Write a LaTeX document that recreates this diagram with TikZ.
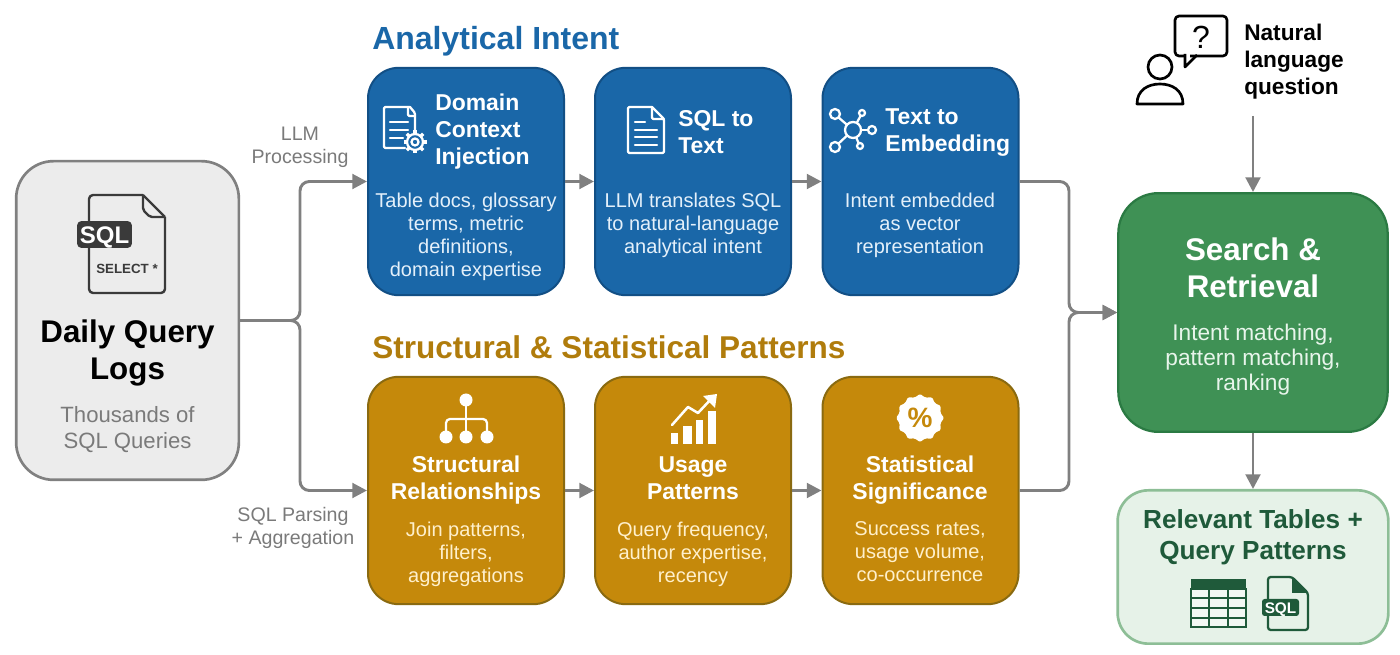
\documentclass[tikz,border=0pt]{standalone}
\usepackage{fontspec}
\usepackage{color}
\setmainfont{Liberation Sans}
\usetikzlibrary{arrows.meta,shapes.geometric}

\definecolor{flowgray}{HTML}{808080}
\definecolor{labelgray}{HTML}{7A7A7A}
\definecolor{logfill}{HTML}{ECECEC}
\definecolor{intentblue}{HTML}{1A67A8}
\definecolor{intentedge}{HTML}{124F85}
\definecolor{patterngold}{HTML}{C5890B}
\definecolor{patternedge}{HTML}{8A6A10}
\definecolor{patterntitle}{HTML}{B07C0C}
\definecolor{searchgreen}{HTML}{3F9155}
\definecolor{searchedge}{HTML}{2B7A43}
\definecolor{resultfill}{HTML}{E6F2E8}
\definecolor{resultedge}{HTML}{8DBE96}
\definecolor{resultdark}{HTML}{1F5A3A}
\definecolor{inkdark}{HTML}{3A3A3A}
\definecolor{bodyblue}{HTML}{E4F0FA}
\definecolor{bodygold}{HTML}{FFF0CC}
\definecolor{bodygreen}{HTML}{E8F5EB}

\tikzset{
	boxbase/.style={rectangle,inner sep=0pt,line width=1.5pt,minimum width=147pt,minimum height=170.5pt,rounded corners=23pt},
	bluebox/.style={boxbase,fill=intentblue,draw=intentedge},
	goldbox/.style={boxbase,fill=patterngold,draw=patternedge},
	flowline/.style={draw=flowgray,line width=2.2pt,rounded corners=7pt,-{Triangle[length=11pt,width=11pt,fill=flowgray]}},
	headtext/.style={text=white,font=\fontsize{17.2}{20.2}\selectfont\bfseries,align=center,inner sep=0pt},
	headleft/.style={headtext,align=left,anchor=west},
	bodytext/.style={font=\fontsize{15}{17.25}\selectfont,align=center,inner sep=0pt},
	sidelabel/.style={text=labelgray,font=\fontsize{14.7}{17.25}\selectfont,align=center,inner sep=0pt},
	grouptitle/.style={font=\fontsize{24}{28}\selectfont\bfseries,anchor=west,inner sep=0pt},
	iconwhite/.style={draw=white,line width=1.7pt,line join=round,line cap=round,rounded corners=1pt},
}

\begin{document}
\begin{tikzpicture}[x=0.75pt,y=-0.75pt]
	\useasboundingbox (0,0) rectangle (1400,655);

	\node [rectangle,inner sep=0pt,fill=logfill,draw=flowgray,line width=2pt,minimum width=167pt,minimum height=239pt,rounded corners=28pt] (logs) at (127.5,320.5) {};
	\node [bluebox] (domain) at (466,181.5) {};
	\node [bluebox] (sqltext) at (693,181.5) {};
	\node [bluebox] (embed) at (920.5,181.5) {};
	\node [goldbox] (struct) at (466,490.5) {};
	\node [goldbox] (usage) at (693,490.5) {};
	\node [goldbox] (stats) at (920.5,490.5) {};
	\node [rectangle,inner sep=0pt,fill=searchgreen,draw=searchedge,line width=1.7pt,minimum width=202pt,minimum height=179pt,rounded corners=30pt] (search) at (1253,312.5) {};
	\node [rectangle,inner sep=0pt,fill=resultfill,draw=resultedge,line width=2pt,minimum width=203pt,minimum height=115pt,rounded corners=23pt] (result) at (1253,567) {};

	\coordinate (splitpt) at (300,320.5);
	\coordinate (mergept) at (1069,312.5);
	\coordinate (askpt) at (1253,116);

	\draw [flowline] (logs.east) -- (splitpt) |- (domain.west);
	\draw [flowline] (logs.east) -- (splitpt) |- (struct.west);
	\draw [flowline] (domain) -- (sqltext);
	\draw [flowline] (sqltext) -- (embed);
	\draw [flowline] (struct) -- (usage);
	\draw [flowline] (usage) -- (stats);
	\draw [flowline] (embed.east) -| (mergept) -- (search.west);
	\draw [flowline] (stats.east) -| (mergept) -- (search.west);
	\draw [flowline] (askpt) -- (search.north);
	\draw [flowline] (search.south) -- (result.north);

	\node [grouptitle,text=intentblue] (intenttitle) at (372,41) {Analytical Intent};
	\node [grouptitle,text=patterntitle,font=\fontsize{23.65}{28}\selectfont\bfseries] (patterntitle) at (372,347) {Structural \& Statistical Patterns};

	\node [sidelabel] (llmlabel) at (300,147) {LLM\\Processing};
	\node [sidelabel] (parselabel) at (293,527.5) {SQL Parsing\\+ Aggregation};

	\node [font=\fontsize{23.5}{27.75}\selectfont\bfseries,align=center,inner sep=0pt] (logstitle) at (127.5,352.5) {Daily Query\\Logs};
	\node [text=labelgray,font=\fontsize{16.6}{19.5}\selectfont,align=center,inner sep=0pt] (logssub) at (127.5,430) {Thousands of\\SQL Queries};

	\draw [draw=inkdark,line width=1.8pt,line join=round,rounded corners=3pt] (89,225) -- (89,195) -- (143,195);
	\draw [draw=inkdark,line width=1.8pt,line join=round] (143,195) -- (165,217);
	\draw [draw=inkdark,line width=1.8pt,line join=round,rounded corners=3pt] (165,217) -- (165,293) -- (89,293) -- (89,245);
	\draw [draw=inkdark,line width=1.8pt,line join=round,rounded corners=1.5pt] (143,195) -- (143,210) -- (150,217) -- (165,217);
	\node [fill=inkdark,text=white,rectangle,rounded corners=3pt,inner sep=0pt,minimum width=41pt,minimum height=20pt,text height=14pt,text depth=0pt,font=\fontsize{18}{18}\selectfont\bfseries] (sqlbadge) at (104.5,234.5) {SQL};
	\node [text=inkdark,font=\fontsize{10}{10}\selectfont\bfseries,inner sep=0pt] (selectlabel) at (127,269) {SELECT *};

	\node [headleft] (domainhead) at (435,132) {Domain\\Context\\Injection};
	\node [headleft] (sqltexthead) at (678,132) {SQL to\\Text};
	\node [headleft] (embedhead) at (885,132.5) {Text to\\Embedding};
	\node [bodytext,text=bodyblue] (domainbody) at (466,236.5) {Table docs, glossary\\terms, metric\\definitions,\\domain expertise};
	\node [bodytext,text=bodyblue] (sqltextbody) at (693,225) {LLM translates SQL\\to natural-language\\analytical intent};
	\node [bodytext,text=bodyblue] (embedbody) at (920,225) {Intent embedded\\as vector\\representation};

	\draw [iconwhite] (410,107) -- (384,107) -- (384,148) -- (405,148);
	\draw [iconwhite] (410,107) -- (415,113) -- (415,130);
	\draw [iconwhite] (408,107) -- (408,116) -- (415,116);
	\draw [iconwhite] (390,122) -- (408,122);
	\draw [iconwhite] (390,130) -- (408,130);
	\draw [iconwhite] (390,138) -- (403,138);
	\foreach \ang in {0,45,...,315}
		\draw [draw=white,line width=2.4pt] (415,142) ++(\ang:6) -- ++(\ang:5.5);
	\draw [iconwhite,fill=intentblue] (415,142) circle (8);
	\draw [iconwhite] (415,142) circle (3.5);

	\draw [iconwhite] (652,107) -- (628,107) -- (628,153) -- (664,153) -- (664,119) -- (652,107);
	\draw [iconwhite] (652,107) -- (652,119) -- (664,119);
	\draw [iconwhite] (635,122) -- (645,122);
	\draw [iconwhite] (635,130) -- (657,130);
	\draw [iconwhite] (635,137) -- (657,137);
	\draw [iconwhite] (635,145) -- (657,145);

	\draw [iconwhite] (853,130) -- (838,117);
	\draw [iconwhite] (853,130) -- (861,115);
	\draw [iconwhite] (853,130) -- (868,130);
	\draw [iconwhite] (853,130) -- (859,144);
	\draw [iconwhite] (853,130) -- (838,144);
	\draw [iconwhite,fill=intentblue] (853,130) circle (8);
	\draw [iconwhite,fill=intentblue] (835,114) circle (5);
	\draw [iconwhite,fill=intentblue] (862,113) circle (3);
	\draw [iconwhite,fill=intentblue] (872,130) circle (4);
	\draw [iconwhite,fill=intentblue] (860,146) circle (3);
	\draw [iconwhite,fill=intentblue] (835,147) circle (5);

	\node [headtext] (structhead) at (466,480.5) {Structural\\Relationships};
	\node [headtext] (usagehead) at (693,478.5) {Usage\\Patterns};
	\node [headtext] (statshead) at (920,480.5) {Statistical\\Significance};
	\node [bodytext,text=bodygold] (structbody) at (466,554) {Join patterns,\\filters,\\aggregations};
	\node [bodytext,text=bodygold] (usagebody) at (693,554) {Query frequency,\\author expertise,\\recency};
	\node [bodytext,text=bodygold] (statsbody) at (920,552) {Success rates,\\usage volume,\\co-occurrence};

	\draw [iconwhite] (466,400) -- (466,437);
	\draw [iconwhite,rounded corners=3pt] (446,437) -- (446,419) -- (487,419) -- (487,437);
	\fill [white] (466,400) circle (6.5);
	\fill [white] (446,437) circle (6.5);
	\fill [white] (466,437) circle (6.5);
	\fill [white] (487,437) circle (6.5);

	\fill [white] (671,433) rectangle (678,444);
	\fill [white] (683,426) rectangle (692,444);
	\fill [white] (696,420) rectangle (703,444);
	\fill [white] (708,411) rectangle (716,444);
	\draw [iconwhite,rounded corners=0pt,line width=1.9pt] (672,425) -- (688,407) -- (698,413) -- (712,398);
	\fill [white] (717,394) -- (703,396) -- (715,408);

	\node [star,star points=12,star point ratio=1.14,rounded corners=1pt,fill=white,inner sep=0pt,minimum size=36pt,text=patterngold,font=\fontsize{21}{21}\selectfont\bfseries] (pctbadge) at (920,418) {\%};

	\node [text=white,font=\fontsize{23.5}{27.75}\selectfont\bfseries,align=center,inner sep=0pt] (searchhead) at (1253,267.5) {Search \&\\Retrieval};
	\node [text=bodygreen,font=\fontsize{17}{18.75}\selectfont,align=center,inner sep=0pt] (searchbody) at (1253,360) {Intent matching,\\pattern matching,\\ranking};

	\node [text=resultdark,font=\fontsize{19.6}{23}\selectfont\bfseries,align=center,inner sep=0pt] (resulthead) at (1253,537.5) {Relevant Tables +\\Query Patterns};

	\fill [resultdark] (1191,579) rectangle (1246,590);
	\draw [draw=resultdark,fill=resultfill!50!white,line width=2pt] (1191,589) rectangle (1246,627);
	\draw [draw=resultdark,line width=2pt] (1209,589) -- (1209,627);
	\draw [draw=resultdark,line width=2pt] (1228,589) -- (1228,627);
	\draw [draw=resultdark,line width=2pt] (1191,598) -- (1246,598);
	\draw [draw=resultdark,line width=2pt] (1191,608) -- (1246,608);
	\draw [draw=resultdark,line width=2pt] (1191,618) -- (1246,618);

	\draw [draw=resultdark,line width=1.7pt,line join=round,rounded corners=2pt] (1268,600) -- (1268,577) -- (1292,577) -- (1308,593) -- (1308,630) -- (1268,630) -- (1268,615);
	\fill [resultdark] (1292,577) -- (1308,593) -- (1292,593) -- cycle;
	\node [fill=resultdark,text=white,rectangle,rounded corners=2pt,inner sep=0pt,minimum width=27.75pt,minimum height=12.75pt,text height=9pt,text depth=0pt,font=\fontsize{11.5}{11.5}\selectfont\bfseries] (sqlbadgetwo) at (1280.5,607.5) {SQL};

	\draw [draw=black,line width=2pt] (1160,67) circle (12);
	\draw [draw=black,line width=2pt,line join=round] (1137,104) -- (1183,104) .. controls (1183,90) and (1172,84) .. (1160,84) .. controls (1148,84) and (1137,90) .. (1137,104) -- cycle;
	\draw [draw=black,line width=2pt,line join=round,rounded corners=3pt] (1190,56) -- (1227,56) -- (1227,16) -- (1175,16) -- (1175,56) -- (1185,56);
	\draw [draw=black,line width=2pt,line join=round] (1185,54) -- (1185,67) -- (1197,55);
	\node [font=\fontsize{24}{24}\selectfont,inner sep=0pt] (askmark) at (1201,37) {?};
	\node [font=\fontsize{17}{20.25}\selectfont\bfseries,align=left,anchor=west,inner sep=0pt] (asklabel) at (1244,62) {Natural\\language\\question};
\end{tikzpicture}
\end{document}
